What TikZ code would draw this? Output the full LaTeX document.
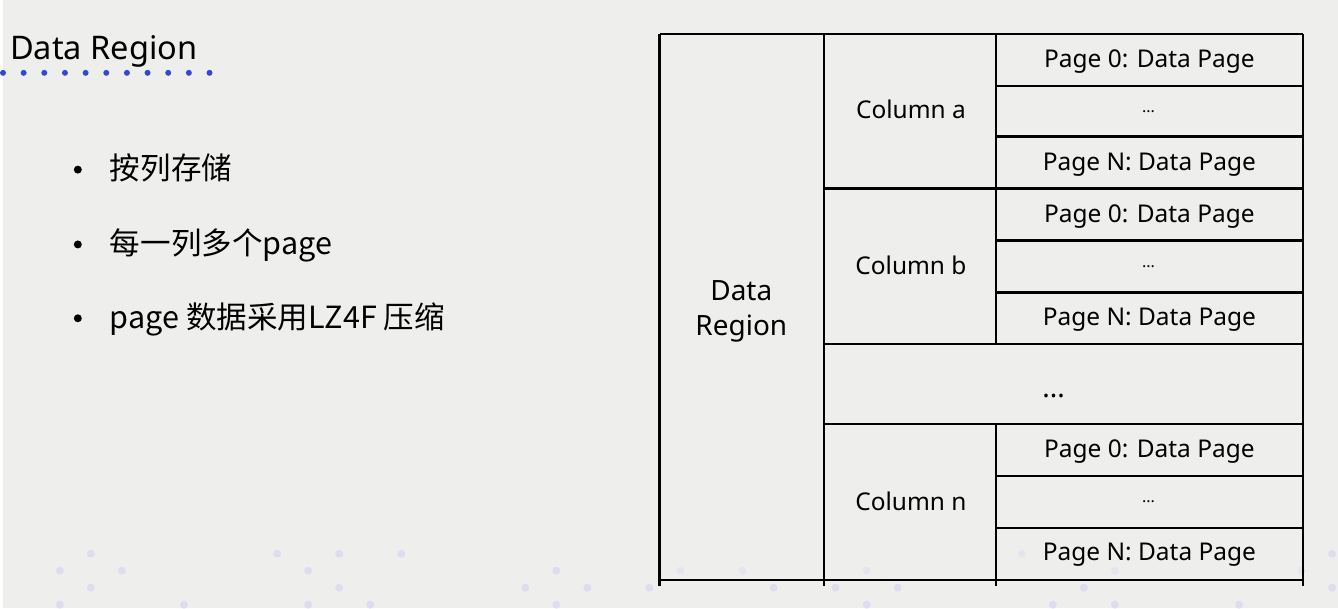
\documentclass[tikz,border=0pt]{standalone}
\usepackage{fontspec}
\setmainfont{Noto Sans}
\newfontfamily\cjk{Noto Sans CJK SC}
\definecolor{slidebg}{HTML}{EEEFED}
\definecolor{titledot}{HTML}{3446D8}
\definecolor{bgdot}{HTML}{DCDDEE}

\begin{document}
\begin{tikzpicture}[x=0.5pt,y=-0.5pt,line width=1.2pt,
    celltext/.style={inner sep=0,font=\fontsize{12.25pt}{14pt}\selectfont},
    itemtext/.style={anchor=base west,inner sep=0,font=\cjk\fontsize{15.3pt}{18pt}\selectfont}]
  \fill[slidebg] (0,0) rectangle (1338,609);
  % faint dots at the bottom
  \foreach \i in {1,7,9,11,31,41} \fill[bgdot] ({57+31.1*\i},555) circle[radius=4];
  \foreach \i in {0,2,8,16,20,22,26,34,40} \fill[bgdot] ({57+31.1*\i},572) circle[radius=4];
  \foreach \i in {1,9,15,17,19,23,25,27,33,41} \fill[bgdot] ({57+31.1*\i},589) circle[radius=4];
  \foreach \i in {0,4,8,10,16,26,32,34,38} \fill[bgdot] ({57+31.1*\i},606) circle[radius=4];
  \fill[slidebg,opacity=0.5] (658,34) rectangle (1303,581);
  % title
  \node[anchor=base west,inner sep=0,font=\fontsize{16.3pt}{20pt}\selectfont] (title) at (6,60) {Data Region};
  \foreach \i in {0,...,10} \fill[titledot] ({20.7*\i},73) circle[radius=3];
  % bullet list
  \foreach \yy/\txt [count=\k] in {168/按列存储,243/每一列多个page,317/page 数据采用LZ4F 压缩}{
    \fill (75,\yy+2) circle[radius=4];
    \node[itemtext] (item\k) at (106,\yy+12) {\txt};
  }
  % table lines
  \draw (658,34) -- (1303,34);
  \foreach \x in {658,823,1303} \draw (\x,34) -- (\x,587);
  \draw (995,34) -- (995,345) (995,425) -- (995,587);
  \foreach \yy in {86,137,241,293,477,529} \draw (995,\yy) -- (1303,\yy);
  \foreach \yy in {189,345,425} \draw (823,\yy) -- (1303,\yy);
  \draw (658,581) -- (1303,581);
  % table texts
  \node[celltext,align=center,font=\fontsize{14pt}{17.5pt}\selectfont] (region) at (740,312) {Data\\Region};
  \node[celltext] (cola) at (910,110) {Column a};
  \node[celltext] (colb) at (910,266) {Column b};
  \node[celltext] (coln) at (910,502) {Column n};
  \foreach \yy/\c in {62/a,217/b,453/n}{
    \node[celltext] (first\c) at (1149,\yy) {Page 0: Data Page};
    \node[celltext,font=\fontsize{8pt}{10pt}\selectfont] (mid\c) at (1148,\yy+50) {...};
    \node[celltext] (last\c) at (1149,\yy+103) {Page N: Data Page};
  }
  \node[celltext,font=\fontsize{14pt}{16pt}\selectfont] (morecols) at (1053,397) {...};
\end{tikzpicture}
\end{document}
